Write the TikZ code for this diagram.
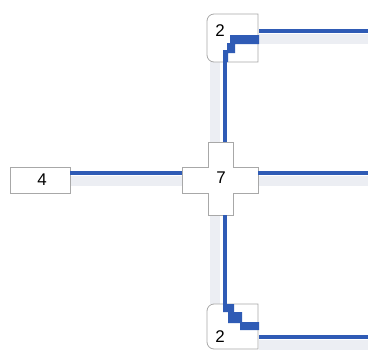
\documentclass[tikz,border=0pt]{standalone}
\usepackage{fontspec}
\setmainfont{Liberation Sans}
\definecolor{lineblue}{HTML}{2F5BB5}
\definecolor{band}{HTML}{ECEEF3}
\definecolor{boxline}{HTML}{A8A8A8}
\tikzset{
  conn/.style={draw=lineblue, line width=3.8bp},
  shade/.style={draw=band, line width=10bp},
  boxtxt/.style={inner sep=0pt, font=\fontsize{17}{17}\selectfont},
  plainbox/.style={draw=boxline, fill=white, line width=0.8bp, rectangle, inner sep=0pt},
}
\begin{document}
\begin{tikzpicture}[x=1bp,y=-1bp]
\useasboundingbox (0,0) rectangle (368,354);
% shading bands
\draw[shade] (215,62) -- (215,142);
\draw[shade] (215,215) -- (215,304);
\draw[shade] (70,181) -- (182,181);
\draw[shade] (258,181) -- (368,181);
\draw[shade] (259,39) -- (368,39);
\draw[shade] (259,345) -- (368,345);

% node 4
\node[plainbox, minimum width=60bp, minimum height=26bp] (n4) at (40,180) {};
\node[boxtxt] (l4) at (42,180) {4};

% cross 7
\draw[boxline, fill=white, line width=0.8bp]
  (208,142) -- (233,142) -- (233,167) -- (258,167) -- (258,193) -- (233,193)
  -- (233,215) -- (208,215) -- (208,193) -- (182,193) -- (182,167) -- (208,167) -- cycle;
\node[boxtxt] (c7) at (221,178) {7};
\coordinate (c7w) at (182,173);
\coordinate (c7e) at (258,173);
\coordinate (c7n) at (225,142);
\coordinate (c7s) at (225,215);

% top node 2
\draw[boxline, fill=white, line width=0.8bp]
  (258,14) [rounded corners=7bp]-- (207,14) -- (207,62) [sharp corners]-- (258,62) -- cycle;
\node[boxtxt] (t2) at (220,31) {2};
\coordinate (t2s) at (225,62);
\coordinate (t2e) at (259,31);
\fill[lineblue] (259,35) -- (230,35) -- (230,43) -- (227,43) -- (227,50) -- (223,50) -- (223,62)
  -- (228,62) -- (228,53) -- (235,53) -- (235,44) -- (259,44) -- cycle;

% bottom node 2
\draw[boxline, fill=white, line width=0.8bp]
  (258,304) [rounded corners=7bp]-- (207,304) -- (207,349) [sharp corners]-- (258,349) -- cycle;
\node[boxtxt] (b2) at (220,337) {2};
\coordinate (b2n) at (225,304);
\coordinate (b2e) at (259,337);
\fill[lineblue] (223,304) -- (223,312) -- (228,312) -- (228,323) -- (240,323) -- (240,330) -- (259,330)
  -- (259,322) -- (242,322) -- (242,312) -- (234,312) -- (234,304) -- cycle;

% connectors
\draw[conn] (n4.east |- c7w) -- (c7w);
\draw[conn] (c7e) -- (368,173);
\draw[conn] (t2e) -- (368,31);
\draw[conn] (b2e) -- (368,337);
\draw[conn] (t2s) -- (c7n);
\draw[conn] (c7s) -- (b2n);
\end{tikzpicture}
\end{document}
